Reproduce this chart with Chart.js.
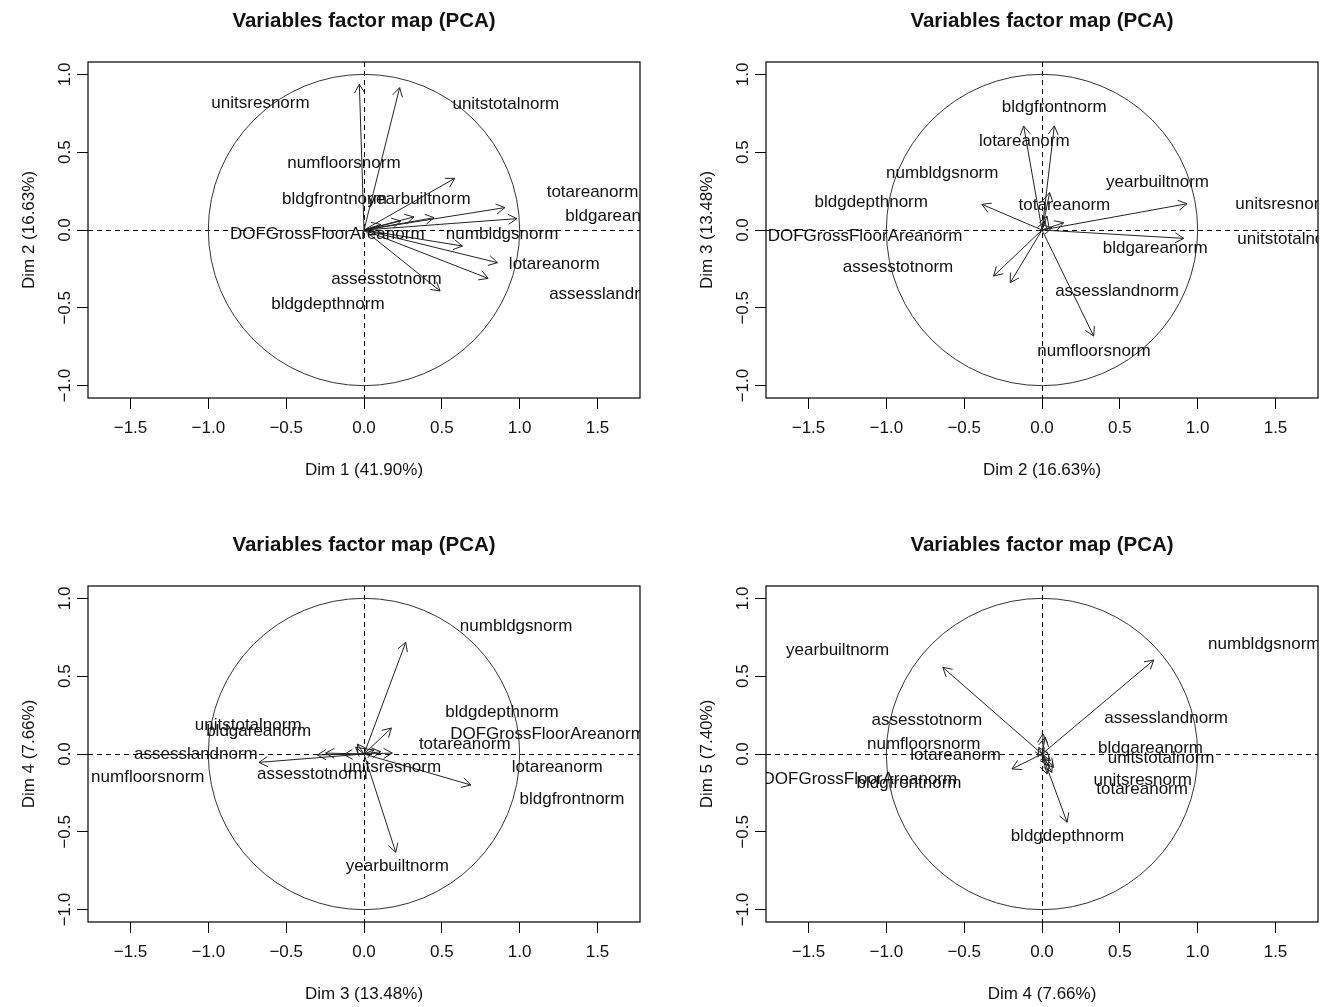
<!DOCTYPE html>
<html>
<head>
<meta charset="utf-8">
<script src="https://cdn.jsdelivr.net/npm/chart.js@4.4.1/dist/chart.umd.min.js"></script>
<style>
  body { margin: 0; background: #fff; width: 1327px; height: 1007px; position: relative; overflow: hidden; }
  canvas { position: absolute; }
</style>
</head>
<body>
<canvas id="map12" width="648" height="483" style="left:0;top:0"></canvas>
<canvas id="map23" width="648" height="483" style="left:678px;top:0"></canvas>
<canvas id="map34" width="648" height="483" style="left:0;top:524px"></canvas>
<canvas id="map45" width="648" height="483" style="left:678px;top:524px"></canvas>
<script>
var varNames = ['unitsresnorm', 'unitstotalnorm', 'numfloorsnorm', 'bldgfrontnorm', 'yearbuiltnorm',
  'totareanorm', 'bldgareanorm', 'DOFGrossFloorAreanorm', 'numbldgsnorm', 'lotareanorm',
  'assesstotnorm', 'assesslandnorm', 'bldgdepthnorm'];
var dimPct = [41.90, 16.63, 13.48, 7.66, 7.40];
var xTicks = [-1.5, -1.0, -0.5, 0.0, 0.5, 1.0, 1.5];
var yTicks = [-1.0, -0.5, 0.0, 0.5, 1.0];

// arrow ends (variable coordinates) for each pair of dims
var arrows12x = [-0.03, 0.229, 0.583, 0.905, 0.982, 0.632, 0.857, 0.797, 0.489, 0.32, 0.45, 0.236, 0.107];
var arrows12y = [0.937, 0.915, 0.332, 0.144, 0.073, -0.103, -0.21, -0.311, -0.392, 0.084, 0.079, 0.058, 0.036];
var arrows23x = [0.932, 0.911, -0.118, 0.079, 0.049, -0.386, -0.311, -0.204, 0.332, 0.139, 0.032, 0.02, 0.064];
var arrows23y = [0.169, -0.054, 0.669, 0.669, 0.240, 0.165, -0.296, -0.339, -0.682, 0.047, 0.09, 0.058, 0.015];
var arrows34x = [0.268, 0.176, 0.686, 0.204, -0.675, -0.30, -0.246, 0.182, -0.043, 0.107, 0.064, -0.054, -0.129];
var arrows34y = [0.718, 0.167, -0.199, -0.632, -0.054, -0.006, 0.006, 0.006, 0.064, 0.015, 0.026, 0.043, -0.004];
var arrows45x = [-0.637, 0.718, -0.193, 0.161, 0.006, 0.064, 0.043, 0.021, -0.021, 0.054, 0.011, 0.075, 0.032];
var arrows45y = [0.557, 0.604, -0.096, -0.439, 0.129, -0.118, -0.075, 0.107, 0.043, -0.043, -0.021, -0.086, -0.129];

// label anchors as placed by autoLab (same order as varNames)
var labels12x = [-0.665, 0.911, -0.129, -0.19, 0.354, 1.468, 1.63, -0.236, 0.887, 1.222, 0.144, 1.587, -0.232];
var labels12y = [0.812, 0.808, 0.427, 0.197, 0.197, 0.244, 0.086, -0.028, -0.028, -0.221, -0.317, -0.414, -0.478];
var labels23x = [1.557, 1.598, 0.334, 0.079, 0.742, 0.144, 0.727, -1.137, -0.641, -0.114, -0.925, 0.482, -1.097];
var labels23y = [0.167, -0.058, -0.782, 0.787, 0.309, 0.159, -0.12, -0.039, 0.364, 0.568, -0.242, -0.392, 0.176];
var labels34x = [0.18, -0.744, -1.389, 1.336, 0.214, 0.647, -0.677, 1.179, 0.977, 1.241, -0.332, -1.08, 0.887];
var labels34y = [-0.086, 0.182, -0.152, -0.289, -0.725, 0.06, 0.144, 0.124, 0.821, -0.086, -0.129, 0.0, 0.268];
var labels45x = [0.647, 0.765, -0.76, -0.854, -1.313, 0.643, 0.697, -1.17, 1.428, -0.555, -0.74, 0.797, 0.163];
var labels45y = [-0.171, -0.026, 0.06, -0.189, 0.665, -0.225, 0.036, -0.165, 0.708, -0.006, 0.214, 0.229, -0.532];

var FONT = "'Liberation Sans', Arial, Helvetica, sans-serif";

function fmt(v) {
  return (v < 0 ? '\u2212' : '') + Math.abs(v).toFixed(1);
}

function makeFactorPlugin(xTitle, yTitle, lx, ly) {
  return {
    id: 'factorMap',
    beforeDatasetsDraw: function(chart) {
      var ctx = chart.ctx, a = chart.chartArea, sx = chart.scales.x, sy = chart.scales.y;
      var x0 = sx.getPixelForValue(0), y0 = sy.getPixelForValue(0);
      ctx.save();
      ctx.strokeStyle = '#000';
      ctx.lineWidth = 1;
      ctx.setLineDash([5, 4]);
      ctx.beginPath();
      ctx.moveTo(a.left, Math.round(y0) + 0.5);
      ctx.lineTo(a.right, Math.round(y0) + 0.5);
      ctx.moveTo(Math.round(x0) + 0.5, a.top);
      ctx.lineTo(Math.round(x0) + 0.5, a.bottom);
      ctx.stroke();
      ctx.setLineDash([]);
      ctx.strokeStyle = '#333';
      ctx.beginPath();
      ctx.arc(x0, y0, sx.getPixelForValue(1) - x0, 0, 2 * Math.PI);
      ctx.stroke();
      ctx.restore();
    },
    afterDatasetsDraw: function(chart) {
      var ctx = chart.ctx, a = chart.chartArea, sx = chart.scales.x, sy = chart.scales.y;
      ctx.save();
      ctx.strokeStyle = '#222';
      ctx.lineWidth = 1;
      chart.data.datasets.forEach(function(ds, i) {
        var pts = chart.getDatasetMeta(i).data;
        var p0 = pts[0], p1 = pts[1];
        var ang = Math.atan2(p1.y - p0.y, p1.x - p0.x), len = 10, wing = Math.PI / 6;
        ctx.beginPath();
        ctx.moveTo(p1.x - len * Math.cos(ang - wing), p1.y - len * Math.sin(ang - wing));
        ctx.lineTo(p1.x, p1.y);
        ctx.lineTo(p1.x - len * Math.cos(ang + wing), p1.y - len * Math.sin(ang + wing));
        ctx.stroke();
      });
      // variable names, clipped to the plot region like R does
      ctx.beginPath();
      ctx.rect(a.left, a.top, a.right - a.left, a.bottom - a.top);
      ctx.clip();
      ctx.fillStyle = '#111';
      ctx.font = '17px ' + FONT;
      ctx.textAlign = 'center';
      ctx.textBaseline = 'middle';
      varNames.forEach(function(n, i) {
        ctx.fillText(n, sx.getPixelForValue(lx[i]), sy.getPixelForValue(ly[i]));
      });
      ctx.restore();
    },
    afterDraw: function(chart) {
      var ctx = chart.ctx, a = chart.chartArea, sy = chart.scales.y;
      var cx = (a.left + a.right) / 2, cy = (a.top + a.bottom) / 2;
      ctx.save();
      ctx.strokeStyle = '#000';
      ctx.lineWidth = 1.2;
      ctx.strokeRect(a.left, a.top, a.right - a.left, a.bottom - a.top);
      ctx.fillStyle = '#111';
      ctx.textAlign = 'center';
      ctx.textBaseline = 'middle';
      ctx.font = 'bold 20.5px ' + FONT;
      ctx.fillText('Variables factor map (PCA)', cx, 21);
      ctx.font = '17px ' + FONT;
      ctx.fillText(xTitle, cx, a.bottom + 72);
      // y tick labels, rotated as in R
      yTicks.forEach(function(v) {
        ctx.save();
        ctx.translate(a.left - 23, sy.getPixelForValue(v));
        ctx.rotate(-Math.PI / 2);
        ctx.fillText(fmt(v), 0, 0);
        ctx.restore();
      });
      ctx.translate(29, cy);
      ctx.rotate(-Math.PI / 2);
      ctx.fillText(yTitle, 0, 0);
      ctx.restore();
    }
  };
}

function factorMap(id, dx, dy, xs, ys, lx, ly) {
  var xTitle = 'Dim ' + dx + ' (' + dimPct[dx - 1].toFixed(2) + '%)';
  var yTitle = 'Dim ' + dy + ' (' + dimPct[dy - 1].toFixed(2) + '%)';
  var datasets = xs.map(function(x, i) {
    return {
      data: [{x: 0, y: 0}, {x: x, y: ys[i]}],
      showLine: true,
      borderColor: '#222',
      borderWidth: 1,
      pointRadius: 0
    };
  });
  var tickGrid = { drawOnChartArea: false, drawTicks: true, tickLength: 11, color: '#000', tickColor: '#000' };
  new Chart(document.getElementById(id), {
    type: 'scatter',
    data: { datasets: datasets },
    options: {
      responsive: false,
      animation: false,
      devicePixelRatio: 1,
      layout: { padding: { top: 62, right: 8, left: 0, bottom: 0 } },
      plugins: { legend: { display: false }, tooltip: { enabled: false } },
      scales: {
        x: {
          type: 'linear', min: -1.773, max: 1.773,
          afterBuildTicks: function(s) { s.ticks = xTicks.map(function(v) { return {value: v}; }); },
          afterFit: function(s) { s.height = 85; },
          grid: tickGrid,
          border: { display: false },
          ticks: { autoSkip: false, maxRotation: 0, padding: 9, color: '#111',
                   font: { family: FONT, size: 17 }, callback: function(v) { return fmt(v); } }
        },
        y: {
          type: 'linear', min: -1.08, max: 1.08,
          afterBuildTicks: function(s) { s.ticks = yTicks.map(function(v) { return {value: v}; }); },
          afterFit: function(s) { s.width = 88; },
          grid: tickGrid,
          border: { display: false },
          ticks: { display: false }
        }
      }
    },
    plugins: [makeFactorPlugin(xTitle, yTitle, lx, ly)]
  });
}

factorMap('map12', 1, 2, arrows12x, arrows12y, labels12x, labels12y);
factorMap('map23', 2, 3, arrows23x, arrows23y, labels23x, labels23y);
factorMap('map34', 3, 4, arrows34x, arrows34y, labels34x, labels34y);
factorMap('map45', 4, 5, arrows45x, arrows45y, labels45x, labels45y);
</script>
</body>
</html>
